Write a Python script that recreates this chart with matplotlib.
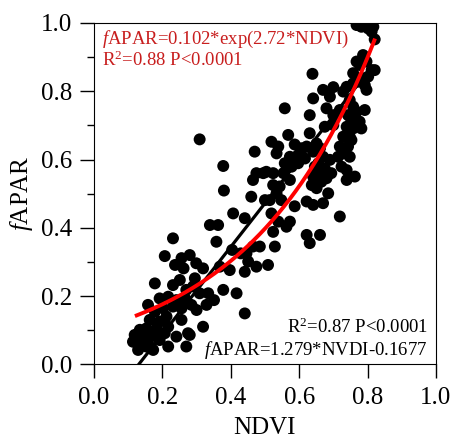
"""fAPAR vs NDVI scatter with exponential and linear fits."""

import matplotlib

matplotlib.use("Agg")

import matplotlib.pyplot as plt
import numpy as np

plt.rcParams["font.family"] = ["Liberation Serif", "DejaVu Serif"]
plt.rcParams["mathtext.fontset"] = "custom"
plt.rcParams["mathtext.rm"] = "Liberation Serif"
plt.rcParams["mathtext.it"] = "Liberation Serif:italic"

ndvi = [
    0.768, 0.782, 0.797, 0.802, 0.817, 0.812, 0.821,
    0.787, 0.768, 0.777, 0.797, 0.812, 0.821, 0.802, 0.758, 0.787, 0.772, 0.792, 0.797, 0.758,
    0.639, 0.670, 0.700, 0.690, 0.729, 0.739,
    0.641, 0.558, 0.680, 0.631, 0.700, 0.719, 0.748, 0.758, 0.768, 0.792, 0.743, 0.753, 0.777,
    0.739, 0.782, 0.758, 0.675, 0.700,
    0.631, 0.568, 0.309,
    0.729, 0.748, 0.719, 0.743, 0.753, 0.729, 0.748, 0.714,
    0.519, 0.539, 0.534, 0.587, 0.607, 0.622, 0.651, 0.661, 0.597, 0.573, 0.617, 0.558, 0.578,
    0.597, 0.641, 0.670, 0.656, 0.690, 0.470, 0.378,
    0.475, 0.495, 0.504, 0.524, 0.465, 0.646, 0.661, 0.675, 0.694, 0.724, 0.739, 0.763, 0.739,
    0.641, 0.665, 0.680, 0.573, 0.554, 0.543, 0.524,
    0.380, 0.460, 0.534, 0.514, 0.500, 0.548, 0.637, 0.651, 0.685, 0.622, 0.641, 0.670,
    0.407, 0.441, 0.519, 0.587, 0.539, 0.573, 0.563, 0.719,
    0.339, 0.363, 0.358, 0.524, 0.529, 0.485, 0.465, 0.622, 0.631, 0.661, 0.446,
    0.231, 0.404, 0.429, 0.207, 0.256, 0.280, 0.237, 0.262, 0.299, 0.319, 0.368, 0.397, 0.451,
    0.475, 0.509, 0.441,
    0.178, 0.231, 0.251, 0.295, 0.290, 0.270, 0.309, 0.334, 0.378, 0.417, 0.192, 0.217, 0.241,
    0.266, 0.351, 0.329, 0.300, 0.158, 0.178, 0.202, 0.231, 0.256, 0.285, 0.441,
    0.163, 0.192, 0.212, 0.183, 0.217, 0.256, 0.319, 0.241, 0.275, 0.280, 0.217, 0.270,
    0.119, 0.134, 0.153, 0.144, 0.163, 0.129, 0.153, 0.173, 0.192, 0.207, 0.114, 0.139, 0.158, 0.183,
]
fapar = [
    0.994, 0.989, 0.999, 0.984, 0.989, 0.975, 0.952,
    0.906, 0.887, 0.877, 0.887, 0.862, 0.862, 0.843, 0.853, 0.838, 0.828, 0.818, 0.804, 0.823,
    0.851, 0.804, 0.812, 0.784, 0.799, 0.813,
    0.779, 0.750, 0.750, 0.730, 0.730, 0.745, 0.774, 0.755, 0.740, 0.745, 0.730, 0.716, 0.711,
    0.696, 0.691, 0.691, 0.696, 0.701,
    0.677, 0.672, 0.659,
    0.667, 0.667, 0.638, 0.638, 0.657, 0.618, 0.608, 0.608,
    0.652, 0.638, 0.618, 0.644, 0.633, 0.638, 0.647, 0.633, 0.613, 0.608, 0.603, 0.589, 0.579,
    0.589, 0.623, 0.608, 0.589, 0.599, 0.623, 0.581,
    0.560, 0.560, 0.564, 0.560, 0.540, 0.579, 0.564, 0.574, 0.560, 0.579, 0.569, 0.550, 0.540,
    0.550, 0.535, 0.545, 0.540, 0.560, 0.521, 0.525,
    0.509, 0.491, 0.501, 0.481, 0.481, 0.481, 0.525, 0.516, 0.501, 0.477, 0.467, 0.472,
    0.442, 0.428, 0.442, 0.463, 0.418, 0.418, 0.403, 0.433,
    0.408, 0.408, 0.359, 0.388, 0.345, 0.345, 0.345, 0.379, 0.355, 0.379, 0.325,
    0.369, 0.335, 0.325, 0.317, 0.311, 0.320, 0.291, 0.281, 0.296, 0.281, 0.286, 0.276, 0.301,
    0.286, 0.291, 0.271,
    0.237, 0.232, 0.247, 0.252, 0.228, 0.218, 0.208, 0.208, 0.218, 0.208, 0.193, 0.198, 0.188,
    0.193, 0.188, 0.174, 0.159, 0.174, 0.154, 0.164, 0.169, 0.164, 0.174, 0.149,
    0.130, 0.125, 0.140, 0.105, 0.110, 0.130, 0.110, 0.081, 0.091, 0.086, 0.052, 0.052,
    0.086, 0.101, 0.105, 0.081, 0.086, 0.042, 0.052, 0.042, 0.071, 0.091, 0.066, 0.062, 0.062, 0.081,
]

# fits reported on the chart
exp_a, exp_b = 0.102, 2.72
exp_range = (0.125, 0.82)
lin_slope, lin_icept = 1.279, -0.1677
lin_range = (0.128, 0.79)

fig = plt.figure(figsize=(4.55, 4.43), dpi=100)
ax = fig.add_axes([0.2066, 0.1777, 0.7514, 0.7704])

ax.scatter(ndvi, fapar, s=74, color="black", edgecolors="none", zorder=2)

x_lin = np.array(lin_range)
ax.plot(x_lin, lin_slope * x_lin + lin_icept, color="black", lw=2.3, zorder=3)
x_exp = np.linspace(*exp_range, 200)
ax.plot(x_exp, exp_a * np.exp(exp_b * x_exp), color="#ff0000", lw=2.8, zorder=4)

ax.set_xlim(0, 1.0)
ax.set_ylim(0, 1.0)
ax.set_xticks(np.arange(0, 1.01, 0.2))
ax.set_yticks(np.arange(0, 1.01, 0.2))
ax.set_yticks(np.arange(0.1, 1.0, 0.2), minor=True)
ax.xaxis.set_major_formatter(matplotlib.ticker.FormatStrFormatter("%.1f"))
ax.yaxis.set_major_formatter(matplotlib.ticker.FormatStrFormatter("%.1f"))
ax.tick_params(which="major", direction="out", length=10, width=1, labelsize=18, pad=6)
ax.tick_params(which="minor", direction="out", length=5, width=1)
ax.tick_params(top=False, right=False)

ax.set_xlabel("NDVI", fontsize=18, labelpad=6)
ax.set_ylabel(r"$\mathit{f}$APAR", fontsize=18, labelpad=4)

red_text = "#c81e1e"
ax.text(0.022, 0.94, r"$\mathit{f}$APAR=0.102*exp(2.72*NDVI)", transform=ax.transAxes,
        fontsize=13.5, color=red_text, ha="left", va="baseline")
ax.text(0.022, 0.873, r"R$^2$=0.88 P<0.0001", transform=ax.transAxes,
        fontsize=13.5, color=red_text, ha="left", va="baseline")
ax.text(0.977, 0.092, r"R$^2$=0.87 P<0.0001", transform=ax.transAxes,
        fontsize=13.5, color="black", ha="right", va="baseline")
ax.text(0.977, 0.028, r"$\mathit{f}$APAR=1.279*NVDI-0.1677", transform=ax.transAxes,
        fontsize=13.5, color="black", ha="right", va="baseline")

fig.savefig("out.png", dpi=100)
plt.close(fig)
